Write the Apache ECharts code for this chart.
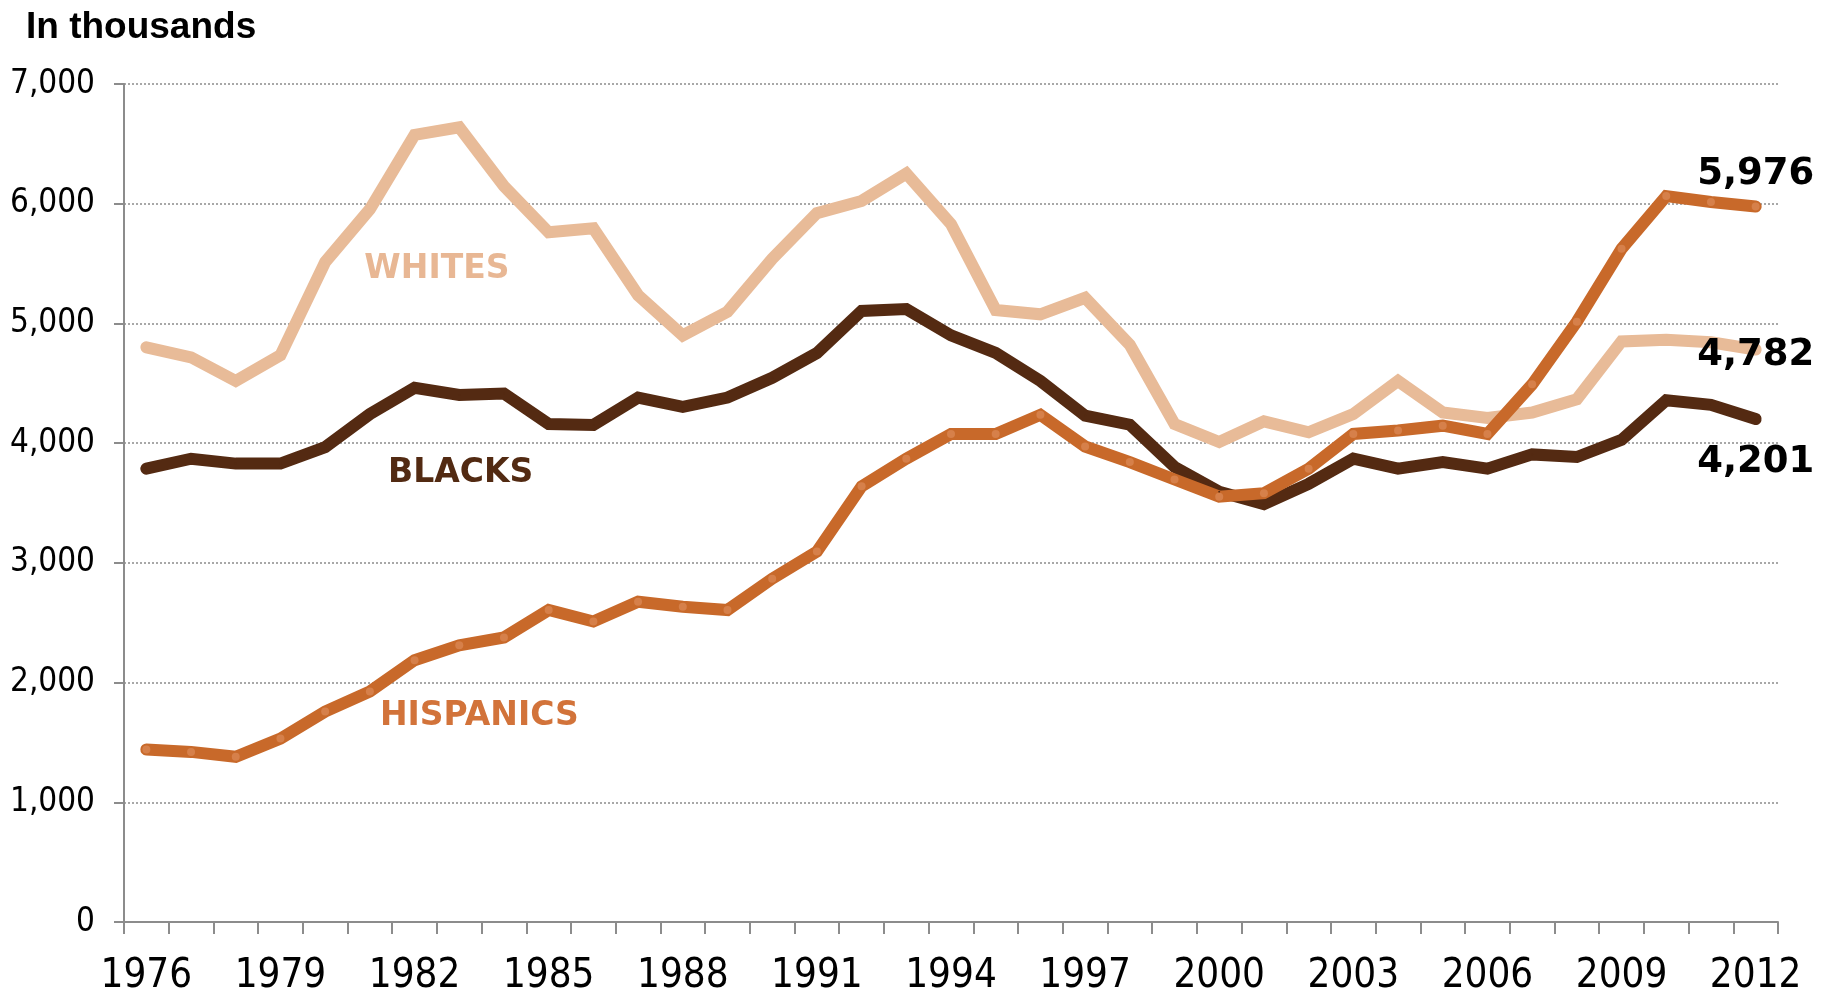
<!DOCTYPE html>
<html>
<head>
<meta charset="utf-8">
<script src="https://cdn.jsdelivr.net/npm/echarts@6/dist/echarts.min.js"></script>
<style>
  html, body { margin: 0; padding: 0; background: #ffffff; }
  #chart { width: 1828px; height: 997px; }
</style>
</head>
<body>
<div id="chart"></div>
<script>
// Years on the category axis
const years = ['1976','1977','1978','1979','1980','1981','1982','1983','1984','1985',
               '1986','1987','1988','1989','1990','1991','1992','1993','1994','1995',
               '1996','1997','1998','1999','2000','2001','2002','2003','2004','2005',
               '2006','2007','2008','2009','2010','2011','2012'];

// Counts in thousands
const whites = [4800, 4717, 4519, 4734, 5512, 5954, 6575, 6638, 6147, 5761,
                5794, 5236, 4900, 5098, 5540, 5921, 6023, 6252, 5830, 5112,
                5076, 5214, 4822, 4160, 4010, 4182, 4091, 4243, 4519, 4256,
                4210, 4256, 4367, 4850, 4864, 4842, 4782];

const blacks = [3787, 3870, 3829, 3829, 3967, 4243, 4463, 4403, 4414, 4160,
                4152, 4381, 4303, 4381, 4546, 4753, 5104, 5120, 4900, 4753,
                4519, 4229, 4154, 3801, 3594, 3491, 3660, 3870, 3787, 3842,
                3787, 3906, 3884, 4027, 4359, 4320, 4201];

const hispanics = [1441, 1421, 1380, 1532, 1758, 1926, 2187, 2311, 2377, 2606,
                   2510, 2675, 2634, 2606, 2868, 3094, 3639, 3870, 4077, 4077,
                   4237, 3972, 3842, 3696, 3553, 3582, 3787, 4077, 4105, 4146,
                   4077, 4491, 5015, 5623, 6064, 6015, 5976];

// Series names written inside the plot
const groupNames = ['WHITES', 'BLACKS', 'HISPANICS'];

// Y axis range
const yMin = 0, yMax = 7000, yStep = 1000;

const COLORS = { whites: '#E8BB98', blacks: '#542A12', hispanics: '#C8692A' };
const NAME_COLORS = ['#E8B794', '#522A12', '#D2733A'];
const CONDENSED = "'DejaVu Sans Condensed', 'DejaVu Sans', sans-serif";
const BOLD_SANS = "'DejaVu Sans', sans-serif";
const AXIS_GRAY = '#8c8c8c';

const fmt = v => Number(v).toLocaleString('en-US');

// Attach a value label to the final point of a series
function withEndLabel(values, labelOpts) {
  return values.map((v, i) => i === values.length - 1
    ? { value: v, label: Object.assign({
          show: true,
          formatter: p => fmt(p.value),
          fontFamily: BOLD_SANS,
          fontWeight: 'bold',
          fontSize: 37,
          color: '#000'
        }, labelOpts) }
    : v);
}

function lineSeries(name, values, color, symbolSize, symbolColor, labelOpts) {
  return {
    name: name,
    type: 'line',
    xAxisIndex: 0,
    yAxisIndex: 0,
    data: withEndLabel(values, labelOpts),
    symbol: 'circle',
    symbolSize: symbolSize,
    showSymbol: true,
    showAllSymbol: true,
    itemStyle: { color: symbolColor, borderWidth: 0 },
    lineStyle: { color: color, width: 12, cap: 'round', join: 'miter' },
    emphasis: { disabled: true },
    silent: true
  };
}

const chart = echarts.init(document.getElementById('chart'), null, { renderer: 'canvas' });

chart.setOption({
  animation: false,
  backgroundColor: '#ffffff',
  title: {
    text: 'In thousands',
    left: 21,
    top: 4,
    textStyle: { fontFamily: "'Liberation Sans', Arial, sans-serif", fontWeight: 'bold', fontSize: 37, color: '#000' }
  },
  grid: { left: 124, right: 50, top: 84, bottom: 66, containLabel: false },
  xAxis: [
    {
      type: 'category',
      data: years,
      boundaryGap: true,
      axisLine: { show: true, onZero: false, lineStyle: { color: AXIS_GRAY, width: 2 } },
      axisTick: { show: true, interval: 0, length: 12, lineStyle: { color: AXIS_GRAY, width: 2 } },
      axisLabel: { interval: 2, fontFamily: CONDENSED, fontSize: 40, color: '#000', margin: 35 },
      splitLine: { show: false }
    },
    {
      // hidden linear axis spanning the same bands, used to place the group names
      type: 'value',
      min: -0.5,
      max: years.length - 0.5,
      show: false
    }
  ],
  yAxis: {
    type: 'value',
    min: yMin,
    max: yMax,
    interval: yStep,
    axisLine: { show: true, onZero: false, lineStyle: { color: AXIS_GRAY, width: 2 } },
    axisTick: { show: true, length: 10, lineStyle: { color: AXIS_GRAY, width: 2 } },
    axisLabel: { formatter: v => fmt(v), fontFamily: CONDENSED, fontSize: 33, color: '#000', margin: 29 },
    splitLine: { show: true, lineStyle: { color: AXIS_GRAY, width: 1.5, type: [2, 2] } }
  },
  series: [
    lineSeries('Whites', whites, COLORS.whites, 2, COLORS.whites,
               { position: 'inside', offset: [0, 6] }),
    lineSeries('Blacks', blacks, COLORS.blacks, 2, COLORS.blacks,
               { position: 'bottom', distance: 24 }),
    lineSeries('Hispanics', hispanics, COLORS.hispanics, 8, '#D6804A',
               { position: 'top', distance: 10 }),
    {
      name: 'group names',
      type: 'scatter',
      xAxisIndex: 1,
      yAxisIndex: 0,
      symbolSize: 0,
      silent: true,
      itemStyle: { opacity: 1 },
      data: [[6.5, 5485], [7.03, 3780], [7.45, 1747]].map((c, i) => ({
        value: c,
        label: {
          show: true,
          position: 'inside',
          offset: [0, 4],
          formatter: groupNames[i],
          fontFamily: BOLD_SANS,
          fontWeight: 'bold',
          fontSize: 33,
          color: NAME_COLORS[i],
          opacity: 1
        }
      }))
    }
  ]
});
</script>
</body>
</html>
